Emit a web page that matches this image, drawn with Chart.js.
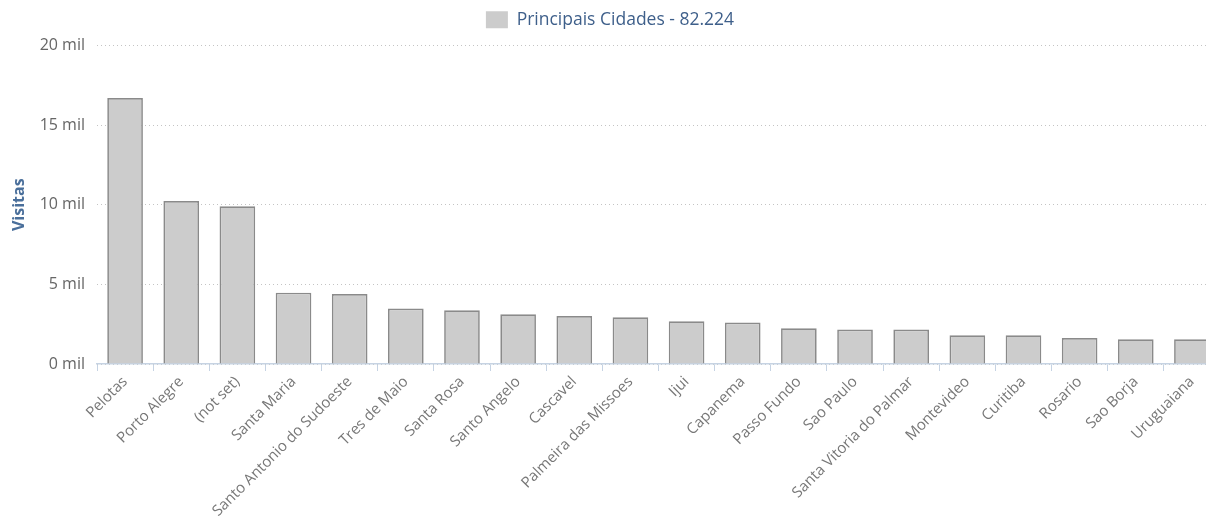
<!DOCTYPE html>
<html>
<head>
<meta charset="utf-8">
<script src="https://cdn.jsdelivr.net/npm/chart.js@4/dist/chart.umd.min.js"></script>
<style>
  html, body { margin: 0; padding: 0; background: #fff; overflow: hidden; }
  #wrap { position: relative; width: 1220px; height: 518px; }
</style>
</head>
<body>
<div id="wrap"><canvas id="c"></canvas></div>
<script>
const cities = [
  "Pelotas", "Porto Alegre", "(not set)", "Santa Maria", "Santo Antonio do Sudoeste",
  "Tres de Maio", "Santa Rosa", "Santo Angelo", "Cascavel", "Palmeira das Missoes",
  "Ijui", "Capanema", "Passo Fundo", "Sao Paulo", "Santa Vitoria do Palmar",
  "Montevideo", "Curitiba", "Rosario", "Sao Borja", "Uruguaiana"
];
const visits = [
  16700, 10230, 9910, 4480, 4400,
  3480, 3370, 3120, 3010, 2930,
  2680, 2600, 2240, 2160, 2160,
  1800, 1800, 1630, 1550, 1550
];
const seriesName = "Principais Cidades";
const seriesTotal = "82.224";
const yTickValues = [0, 5000, 10000, 15000, 20000];
const yTickLabels = ["0 mil", "5 mil", "10 mil", "15 mil", "20 mil"];
const yTitle = "Visitas";

const FONT = "'Open Sans', 'Noto Sans', sans-serif";

const legendMargin = {
  id: 'legendMargin',
  beforeInit(chart) {
    const origFit = chart.legend.fit;
    chart.legend.fit = function () {
      origFit.call(this);
      this.height += 7;
    };
  }
};

new Chart(document.getElementById('c'), {
  type: 'bar',
  plugins: [legendMargin],
  data: {
    labels: cities,
    datasets: [{
      label: seriesName + " - " + seriesTotal,
      data: visits,
      backgroundColor: '#cccccc',
      borderColor: '#8a8a8a',
      borderWidth: 1.7,
      categoryPercentage: 1.0,
      barPercentage: 0.635
    }]
  },
  options: {
    responsive: true,
    maintainAspectRatio: false,
    animation: false,
    layout: { padding: { top: 2, left: 0, right: 0, bottom: 0 } },
    plugins: {
      tooltip: { enabled: false },
      legend: {
        display: true,
        position: 'top',
        align: 'center',
        labels: {
          boxWidth: 22,
          boxHeight: 17,
          padding: 9,
          color: '#3e5f8a',
          font: { family: FONT, size: 17.5 },
          generateLabels: (chart) => chart.data.datasets.map((ds, i) => ({
            text: ds.label,
            fillStyle: '#cccccc',
            strokeStyle: '#cccccc',
            lineWidth: 0,
            fontColor: '#3e5f8a',
            hidden: false,
            datasetIndex: i
          }))
        }
      }
    },
    scales: {
      x: {
        offset: true,
        grid: {
          display: true,
          drawOnChartArea: false,
          drawTicks: true,
          tickLength: 7,
          color: '#c6d3e3',
          offset: true
        },
        border: { display: true, color: '#c6d3e3', width: 1.5 },
        ticks: {
          autoSkip: false,
          maxRotation: 45,
          minRotation: 45,
          padding: 2,
          color: '#777777',
          font: { family: FONT, size: 15 }
        },
        afterFit: (scale) => { scale.height = 154; }
      },
      y: {
        min: 0,
        max: 20000,
        afterBuildTicks: (scale) => { scale.ticks = yTickValues.map(v => ({ value: v })); },
        grid: {
          display: true,
          drawTicks: false,
          color: '#c4c4c4',
          lineWidth: 1
        },
        border: { display: false, dash: [1, 3] },
        ticks: {
          padding: 12,
          color: '#666666',
          font: { family: FONT, size: 16 },
          callback: (v) => {
            const i = yTickValues.indexOf(v);
            return i >= 0 ? yTickLabels[i] : '';
          }
        },
        title: {
          display: true,
          text: yTitle,
          color: '#4a6f9b',
          font: { family: FONT, size: 16, weight: 'bold' },
          padding: { top: 10, bottom: 0 }
        },
        afterFit: (scale) => { scale.width = 97; }
      }
    }
  }
});
</script>
</body>
</html>
